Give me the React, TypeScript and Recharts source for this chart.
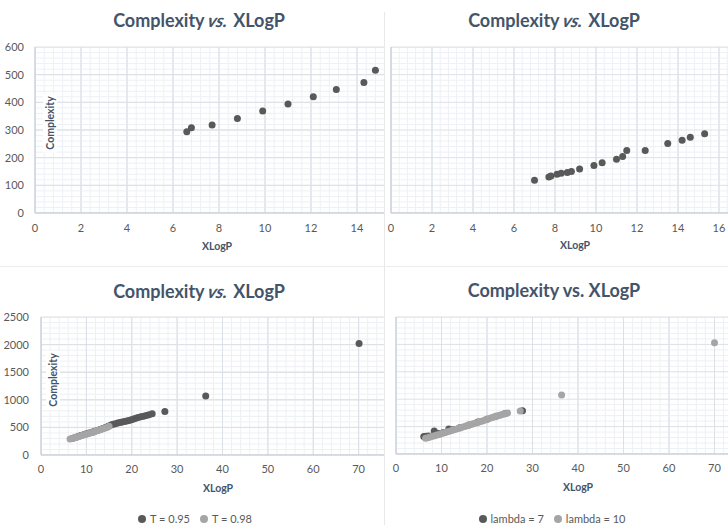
import { ScatterChart, Scatter, XAxis, YAxis, CartesianGrid, Legend, ReferenceLine } from "recharts";

const FONT = "Lato, 'Open Sans', sans-serif";
const DARK = "#595959";
const LIGHT = "#a5a5a5";
const TITLE = "#44546a";
const TICK = "#595959";
const MAJOR = "#dce1e8";
const MINOR = "#edf0f4";
const AXIS = "#c3cad6";

// top-left panel
const xlogpA = [6.6, 6.8, 7.7, 8.8, 9.9, 11.0, 12.1, 13.1, 14.3, 14.8];
const complexityA = [294, 308, 318, 342, 369, 394, 420, 446, 472, 516];

// top-right panel
const xlogpB = [7.0, 7.7, 7.8, 8.1, 8.3, 8.6, 8.8, 9.2, 9.9, 10.3, 11.0, 11.3, 11.5, 12.4, 13.5, 14.2, 14.6, 15.3];
const complexityB = [118, 130, 134, 140, 144, 146, 150, 159, 172, 182, 194, 204, 226, 226, 251, 263, 274, 286];

// bottom-left panel, T = 0.95 / T = 0.98
const xlogpT95 = [7.0, 7.7, 8.3, 8.8, 9.5, 10.0, 10.6, 11.2, 11.8, 12.4, 13.0, 13.6, 14.2, 14.8, 15.4, 15.9, 16.4, 16.9, 17.4, 17.9, 18.4, 18.9, 19.4, 19.9, 20.4, 20.9, 21.4, 22.0, 22.6, 23.2, 23.8, 24.5, 27.3, 36.3, 70.1];
const complexityT95 = [303, 322, 340, 352, 372, 385, 398, 412, 428, 445, 462, 478, 498, 520, 545, 556, 566, 578, 588, 598, 606, 615, 626, 638, 650, 668, 680, 692, 704, 716, 730, 748, 786, 1068, 2018];
const xlogpT98 = [6.4, 6.8, 7.2, 7.6, 8.0, 8.5, 9.0, 9.5, 10.0, 10.5, 11.0, 11.5, 12.0, 12.5, 13.0, 13.5, 14.0, 14.5, 15.0];
const complexityT98 = [290, 298, 306, 318, 328, 340, 352, 366, 378, 390, 402, 414, 428, 442, 456, 470, 484, 500, 520];

// bottom-right panel, lambda = 7 / lambda = 10
const xlogpL7 = [6.1, 6.6, 7.2, 8.4, 9.3, 10.4, 11.6, 12.6, 14.0, 16.0, 18.0, 20.0, 22.0, 24.0, 27.8];
const complexityL7 = [318, 322, 330, 418, 372, 392, 456, 448, 480, 530, 585, 636, 690, 740, 790];
const xlogpL10 = [6.5, 7.0, 7.5, 8.0, 8.5, 9.0, 9.5, 10.1, 10.6, 11.0, 11.5, 12.1, 12.5, 13.0, 13.6, 14.0, 14.5, 15.1, 15.5, 16.0, 16.6, 17.0, 17.5, 18.1, 18.5, 19.0, 19.6, 20.0, 20.5, 21.1, 21.5, 22.0, 22.6, 23.0, 23.5, 24.0, 24.5, 27.3, 36.4, 70.0];
const complexityL10 = [288, 298, 310, 322, 334, 346, 358, 374, 386, 396, 410, 424, 436, 448, 464, 474, 488, 502, 514, 526, 542, 552, 566, 580, 592, 604, 620, 632, 648, 666, 676, 688, 702, 712, 724, 736, 748, 786, 1076, 2030];

const ticksTo = (max: number, step: number) => {
  const out: number[] = [];
  for (let i = 0; i * step <= max + 1e-9; i++) out.push(+(i * step).toFixed(3));
  return out;
};

// minor grid values: 5 divisions per major step, skipping the majors
const minorTicks = (max: number, step: number) =>
  ticksTo(max, step / 5).filter((_, i) => i % 5 !== 0);

const toPoints = (xs: number[], ys: number[]) => xs.map((x, i) => ({ x, y: ys[i] }));

const dot = (color: string) => (p: any) => <circle cx={p.cx} cy={p.cy} r={3.5} fill={color} />;

type Series = { name: string; xs: number[]; ys: number[]; color: string };

type PanelProps = {
  left: number;
  top: number;
  boxW: number;
  boxH: number;
  chartW: number;
  chartH: number;
  margin: { top: number; right: number; bottom: number; left: number };
  yAxisW: number;
  showYTicks: boolean;
  yTickMargin: number;
  xTickMargin: number;
  xMax: number;
  xLast: number;
  xStep: number;
  yMax: number;
  yStep: number;
  series: Series[];
  legendTop?: number;
  legendW?: number;
};

function Panel(p: PanelProps) {
  const tickStyle = { fill: TICK, fontSize: 11, fontFamily: FONT };
  const names = p.series.map((s) => s.name);
  return (
    <div style={{ position: "absolute", left: p.left, top: p.top, width: p.boxW, height: p.boxH, overflow: "hidden" }}>
      <ScatterChart width={p.chartW} height={p.chartH} margin={p.margin}>
        <CartesianGrid stroke={MAJOR} />
        {minorTicks(p.xMax, p.xStep).map((v) => (
          <ReferenceLine key={"x" + v} x={v} stroke={MINOR} ifOverflow="hidden" />
        ))}
        {minorTicks(p.yMax, p.yStep).map((v) => (
          <ReferenceLine key={"y" + v} y={v} stroke={MINOR} ifOverflow="hidden" />
        ))}
        {ticksTo(p.yMax, p.yStep).map((v) => (
          <ReferenceLine key={"Y" + v} y={v} stroke={MAJOR} ifOverflow="hidden" />
        ))}
        {ticksTo(p.xMax, p.xStep).map((v) => (
          <ReferenceLine key={"X" + v} x={v} stroke={MAJOR} ifOverflow="hidden" />
        ))}
        <XAxis
          type="number"
          dataKey="x"
          domain={[0, p.xMax]}
          ticks={ticksTo(p.xLast, p.xStep)}
          tickLine={false}
          tickSize={0}
          tickMargin={p.xTickMargin}
          axisLine={{ stroke: AXIS }}
          tick={tickStyle}
          height={20}
          allowDataOverflow
        />
        <YAxis
          type="number"
          dataKey="y"
          domain={[0, p.yMax]}
          ticks={ticksTo(p.yMax, p.yStep)}
          tickLine={false}
          tickSize={0}
          tickMargin={p.yTickMargin}
          axisLine={{ stroke: AXIS }}
          tick={p.showYTicks ? tickStyle : false}
          width={p.yAxisW}
          allowDataOverflow
        />
        {p.series.map((s) => (
          <Scatter
            key={s.name}
            name={s.name}
            data={toPoints(s.xs, s.ys)}
            fill={s.color}
            shape={dot(s.color)}
            legendType="circle"
            isAnimationActive={false}
          />
        ))}
        {p.legendTop !== undefined && (
          <Legend
            layout="horizontal"
            verticalAlign="middle"
            align="center"
            iconSize={8}
            itemSorter={(item: any) => names.indexOf(item.value)}
            formatter={(v: string) => <span style={{ color: TICK, fontSize: 11, fontFamily: FONT }}>{v}</span>}
            wrapperStyle={{ position: "absolute", top: p.legendTop, left: 0, width: p.legendW, height: 14, lineHeight: "14px" }}
          />
        )}
      </ScatterChart>
    </div>
  );
}

function Title({ cx, cy, italic }: { cx: number; cy: number; italic: boolean }) {
  return (
    <div
      style={{
        position: "absolute",
        left: cx,
        top: cy,
        transform: "translate(-50%, -50%)",
        whiteSpace: "nowrap",
        fontFamily: FONT,
        fontWeight: 700,
        fontSize: 18,
        color: TITLE,
      }}
    >
      Complexity{" "}
      {italic ? (
        <span style={{ display: "inline-block", transform: "skewX(-12deg)", fontStyle: "italic" }}>vs.</span>
      ) : (
        "vs."
      )}{" "}
      XLogP
    </div>
  );
}

function AxisTitle({ cx, cy, text, rotate }: { cx: number; cy: number; text: string; rotate?: boolean }) {
  return (
    <div
      style={{
        position: "absolute",
        left: cx,
        top: cy,
        transform: `translate(-50%, -50%)${rotate ? " rotate(-90deg)" : ""}`,
        whiteSpace: "nowrap",
        fontFamily: FONT,
        fontWeight: 700,
        fontSize: 10.5,
        color: TITLE,
        background: rotate ? "#fff" : "transparent",
        padding: rotate ? "1px 3px" : 0,
      }}
    >
      {text}
    </div>
  );
}

export default function App() {
  return (
    <div style={{ position: "absolute", left: 0, top: 0, width: 728, height: 525, background: "#fff", overflow: "hidden" }}>
      <div style={{ position: "absolute", left: 384, top: 12, width: 1, height: 513, background: "#e8e8e8" }} />
      <div style={{ position: "absolute", left: 0, top: 266, width: 728, height: 1, background: "#ececec" }} />

      <Panel
        left={0}
        top={0}
        boxW={384}
        boxH={264}
        chartW={410}
        chartH={260}
        margin={{ top: 47, right: 7, bottom: 27, left: 0 }}
        yAxisW={35}
        showYTicks
        yTickMargin={11}
        xTickMargin={11}
        xMax={16}
        xLast={14}
        xStep={2}
        yMax={600}
        yStep={100}
        series={[{ name: "A", xs: xlogpA, ys: complexityA, color: DARK }]}
      />
      <Panel
        left={385}
        top={0}
        boxW={343}
        boxH={264}
        chartW={381}
        chartH={260}
        margin={{ top: 47, right: 6, bottom: 27, left: 0 }}
        yAxisW={6}
        showYTicks={false}
        yTickMargin={0}
        xTickMargin={11}
        xMax={18}
        xLast={16}
        xStep={2}
        yMax={600}
        yStep={100}
        series={[{ name: "B", xs: xlogpB, ys: complexityB, color: DARK }]}
      />
      <Panel
        left={0}
        top={268}
        boxW={384}
        boxH={257}
        chartW={410}
        chartH={257}
        margin={{ top: 49, right: 6, bottom: 50, left: 0 }}
        yAxisW={41}
        showYTicks
        yTickMargin={12}
        xTickMargin={10}
        xMax={80}
        xLast={70}
        xStep={10}
        yMax={2500}
        yStep={500}
        series={[
          { name: "T = 0.95", xs: xlogpT95, ys: complexityT95, color: DARK },
          { name: "T = 0.98", xs: xlogpT98, ys: complexityT98, color: LIGHT },
        ]}
        legendTop={243}
        legendW={400}
      />
      <Panel
        left={385}
        top={268}
        boxW={343}
        boxH={257}
        chartW={381}
        chartH={257}
        margin={{ top: 49, right: 6, bottom: 51, left: 0 }}
        yAxisW={11}
        showYTicks={false}
        yTickMargin={0}
        xTickMargin={10}
        xMax={80}
        xLast={70}
        xStep={10}
        yMax={2500}
        yStep={500}
        series={[
          { name: "lambda = 7", xs: xlogpL7, ys: complexityL7, color: DARK },
          { name: "lambda = 10", xs: xlogpL10, ys: complexityL10, color: LIGHT },
        ]}
        legendTop={243}
        legendW={344}
      />

      <Title cx={199} cy={20} italic />
      <Title cx={554} cy={20} italic />
      <Title cx={199} cy={291} italic />
      <Title cx={554} cy={290} italic={false} />

      <AxisTitle cx={217} cy={246} text="XLogP" />
      <AxisTitle cx={575} cy={245} text="XLogP" />
      <AxisTitle cx={218} cy={488} text="XLogP" />
      <AxisTitle cx={578} cy={487} text="XLogP" />
      <AxisTitle cx={50} cy={123} text="Complexity" rotate />
      <AxisTitle cx={53} cy={380} text="Complexity" rotate />
    </div>
  );
}
